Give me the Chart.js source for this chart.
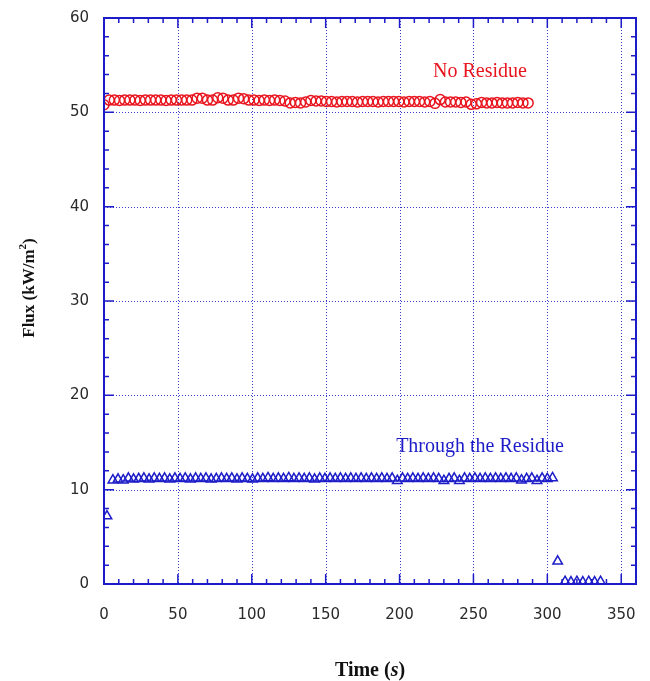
<!DOCTYPE html>
<html>
<head>
<meta charset="utf-8">
<script src="https://cdn.jsdelivr.net/npm/chart.js@4"></script>
<style>
  body { margin: 0; background: #fff; }
  #wrap { width: 650px; height: 681px; }
</style>
</head>
<body>
<div id="wrap"><canvas id="fluxChart" width="650" height="681"></canvas></div>
<script>
// Heat flux readings (kW/m2) against time (s)
const timeNoResidue = [0, 3.5, 7, 10.5, 14, 17.5, 21, 24.5, 28, 31.5, 35, 38.5, 42, 45.5, 49, 52.5, 56, 59.5,
  63, 66.5, 70, 73.5, 77, 80.5, 84, 87.5, 91, 94.5, 98, 101.5, 105, 108.5, 112, 115.5, 119, 122.5,
  126, 129.5, 133, 136.5, 140, 143.5, 147, 150.5, 154, 157.5, 161, 164.5, 168, 171.5, 175, 178.5,
  182, 185.5, 189, 192.5, 196, 199.5, 203, 206.5, 210, 213.5, 217, 220.5, 224, 227.5, 231, 234.5,
  238, 241.5, 245, 248.5, 252, 255.5, 259, 262.5, 266, 269.5, 273, 276.5, 280, 283.5, 287];
const fluxNoResidue = [50.8, 51.3, 51.3, 51.25, 51.3, 51.3, 51.3, 51.25, 51.3, 51.3, 51.3, 51.3, 51.25, 51.3, 51.3, 51.3, 51.3, 51.3,
  51.5, 51.5, 51.3, 51.3, 51.55, 51.5, 51.3, 51.3, 51.5, 51.45, 51.3, 51.3, 51.25, 51.3, 51.25, 51.3,
  51.25, 51.2, 51.0, 51.05, 51.0, 51.1, 51.25, 51.2, 51.2, 51.15, 51.15, 51.1, 51.15, 51.15, 51.15,
  51.1, 51.15, 51.15, 51.15, 51.1, 51.15, 51.15, 51.15, 51.15, 51.1, 51.15, 51.15, 51.15, 51.1, 51.15,
  50.95, 51.35, 51.1, 51.1, 51.1, 51.05, 51.1, 50.85, 50.9, 51.05, 51.0, 51.0, 51.05, 51.0, 51.0,
  51.0, 51.05, 51.0, 51.0];

const timeResidue = [2, 6, 9.5, 13, 16.5, 20, 23.5, 27, 30.5, 34, 37.5, 41, 44.5, 48, 51.5, 55, 58.5, 62,
  65.5, 69, 72.5, 76, 79.5, 83, 86.5, 90, 93.5, 97, 100.5, 104, 107.5, 111, 114.5, 118, 121.5, 125,
  128.5, 132, 135.5, 139, 142.5, 146, 149.5, 153, 156.5, 160, 163.5, 167, 170.5, 174, 177.5, 181,
  184.5, 188, 191.5, 195, 198.5, 202, 205.5, 209, 212.5, 216, 219.5, 223, 226.5, 230, 233.5, 237,
  240.5, 244, 247.5, 251, 254.5, 258, 261.5, 265, 268.5, 272, 275.5, 279, 282.5, 286, 289.5, 293,
  296.5, 300, 303.5, 307, 312, 316, 320, 324, 328, 332, 336];
const fluxResidue = [7.2, 11.0, 11.1, 11.0, 11.2, 11.1, 11.15, 11.2, 11.1, 11.2, 11.15, 11.2, 11.1, 11.2, 11.15, 11.2, 11.1, 11.2,
  11.15, 11.2, 11.1, 11.15, 11.2, 11.15, 11.2, 11.1, 11.2, 11.15, 11.1, 11.2, 11.15, 11.25, 11.15, 11.2, 11.15, 11.25,
  11.15, 11.2, 11.15, 11.2, 11.1, 11.2, 11.15, 11.2, 11.15, 11.2, 11.15, 11.2, 11.15, 11.2, 11.15, 11.2,
  11.15, 11.2, 11.15, 11.2, 10.95, 11.2, 11.15, 11.2, 11.15, 11.2, 11.15, 11.2, 11.15, 10.95, 11.15, 11.2,
  10.95, 11.2, 11.15, 11.2, 11.15, 11.2, 11.15, 11.2, 11.15, 11.2, 11.15, 11.2, 11.0, 11.15, 11.2, 10.95,
  11.2, 11.15, 11.25, 2.4, 0.25, 0.2, 0.25, 0.2, 0.25, 0.2, 0.25];

const xTicks = [0, 50, 100, 150, 200, 250, 300, 350];
const yTicks = [0, 10, 20, 30, 40, 50, 60];

const RED = '#e8141e';
const BLUE = '#1c1cc8';

function toPoints(xs, ys) {
  return xs.map((x, i) => ({ x: x, y: ys[i] }));
}

// grid, frame, tick marks and all text drawn against the chart's own scales
const framePlugin = {
  id: 'frame',
  beforeDatasetsDraw(chart) {
    const ctx = chart.ctx, a = chart.chartArea;
    const xs = chart.scales.x, ys = chart.scales.y;
    ctx.save();
    ctx.strokeStyle = '#3c3cd2';
    ctx.lineWidth = 1;
    ctx.setLineDash([1, 2]);
    xTicks.forEach(v => {
      if (v === 0) return;
      const px = Math.round(xs.getPixelForValue(v)) + 0.5;
      ctx.beginPath(); ctx.moveTo(px, a.top); ctx.lineTo(px, a.bottom); ctx.stroke();
    });
    yTicks.forEach(v => {
      if (v === 0 || v === 60) return;
      const py = Math.round(ys.getPixelForValue(v)) + 0.5;
      ctx.beginPath(); ctx.moveTo(a.left, py); ctx.lineTo(a.right, py); ctx.stroke();
    });
    ctx.restore();
  },
  afterDraw(chart) {
    const ctx = chart.ctx, a = chart.chartArea;
    const xs = chart.scales.x, ys = chart.scales.y;
    ctx.save();
    ctx.strokeStyle = BLUE;
    ctx.lineWidth = 2;
    ctx.strokeRect(a.left, a.top, a.right - a.left, a.bottom - a.top);

    // tick marks on all four sides
    ctx.lineWidth = 1.5;
    for (let v = 10; v < 360; v += 10) {
      const len = v % 50 === 0 ? 10 : 5;
      const px = xs.getPixelForValue(v);
      ctx.beginPath();
      ctx.moveTo(px, a.bottom); ctx.lineTo(px, a.bottom - len);
      ctx.moveTo(px, a.top); ctx.lineTo(px, a.top + len);
      ctx.stroke();
    }
    for (let v = 2; v < 60; v += 2) {
      const len = v % 10 === 0 ? 10 : 5;
      const py = ys.getPixelForValue(v);
      ctx.beginPath();
      ctx.moveTo(a.left, py); ctx.lineTo(a.left + len, py);
      ctx.moveTo(a.right, py); ctx.lineTo(a.right - len, py);
      ctx.stroke();
    }

    // tick labels
    ctx.fillStyle = '#2a2a2a';
    ctx.font = '15px "DejaVu Sans"';
    ctx.textAlign = 'center';
    ctx.textBaseline = 'top';
    xTicks.forEach(v => ctx.fillText(String(v), xs.getPixelForValue(v), a.bottom + 24));
    ctx.textAlign = 'right';
    ctx.textBaseline = 'middle';
    yTicks.forEach(v => ctx.fillText(String(v), a.left - 15, ys.getPixelForValue(v)));

    // x axis title: Time (s)
    ctx.fillStyle = '#111';
    ctx.textBaseline = 'alphabetic';
    ctx.textAlign = 'left';
    const parts = [['bold 20px "Liberation Serif"', 'Time ('], ['italic bold 20px "Liberation Serif"', 's'], ['bold 20px "Liberation Serif"', ')']];
    let total = 0;
    parts.forEach(p => { ctx.font = p[0]; total += ctx.measureText(p[1]).width; });
    let x = (a.left + a.right) / 2 - total / 2;
    parts.forEach(p => { ctx.font = p[0]; ctx.fillText(p[1], x, 676); x += ctx.measureText(p[1]).width; });

    // y axis title: Flux (kW/m2)
    ctx.save();
    ctx.translate(34, 288);
    ctx.rotate(-Math.PI / 2);
    ctx.font = 'bold 17px "Liberation Serif"';
    const main = 'Flux (kW/m', tail = ')';
    const wMain = ctx.measureText(main).width, wTail = ctx.measureText(tail).width;
    ctx.font = 'bold 11px "Liberation Serif"';
    const wSup = ctx.measureText('2').width;
    let tx = -(wMain + wSup + wTail) / 2;
    ctx.font = 'bold 17px "Liberation Serif"';
    ctx.fillText(main, tx, 0); tx += wMain;
    ctx.font = 'bold 11px "Liberation Serif"';
    ctx.fillText('2', tx, -8); tx += wSup;
    ctx.font = 'bold 17px "Liberation Serif"';
    ctx.fillText(tail, tx, 0);
    ctx.restore();

    // series labels
    ctx.font = '20px "Liberation Serif"';
    ctx.textAlign = 'center';
    ctx.fillStyle = RED;
    ctx.fillText('No Residue', 480, 77);
    ctx.fillStyle = BLUE;
    ctx.fillText('Through the Residue', 480, 452);
    ctx.restore();
  }
};

new Chart(document.getElementById('fluxChart').getContext('2d'), {
  type: 'scatter',
  data: {
    datasets: [{
      label: 'No Residue',
      data: toPoints(timeNoResidue, fluxNoResidue),
      pointStyle: 'circle',
      pointRadius: 5,
      borderColor: RED,
      backgroundColor: 'rgba(0,0,0,0)',
      borderWidth: 1.5
    }, {
      label: 'Through the Residue',
      data: toPoints(timeResidue, fluxResidue),
      pointStyle: 'triangle',
      pointRadius: 5.5,
      borderColor: BLUE,
      backgroundColor: 'rgba(0,0,0,0)',
      borderWidth: 1.5
    }]
  },
  options: {
    responsive: false,
    animation: false,
    layout: { padding: { left: 104, top: 18, right: 14, bottom: 97 } },
    plugins: { legend: { display: false }, tooltip: { enabled: false } },
    scales: {
      x: { type: 'linear', min: 0, max: 360, display: false },
      y: { type: 'linear', min: 0, max: 60, display: false }
    }
  },
  plugins: [framePlugin]
});
</script>
</body>
</html>
